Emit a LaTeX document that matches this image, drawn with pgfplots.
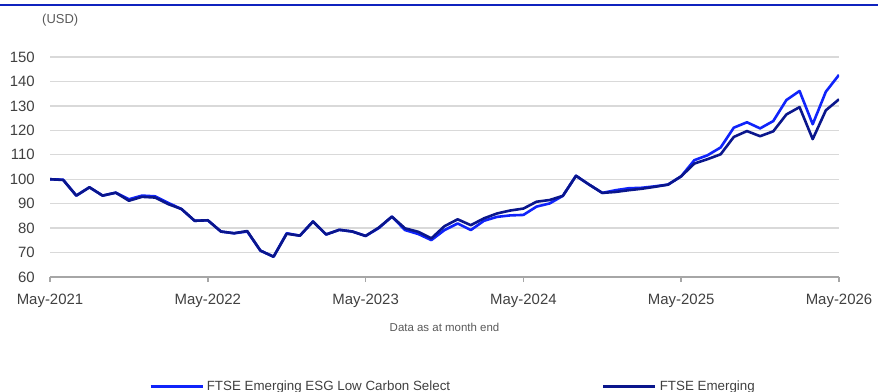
\documentclass[border=0pt]{standalone}
\usepackage{pgfplots}
\pgfplotsset{compat=1.18}
\usepackage{pgfplotstable}
\usepackage{fontspec}
\setmainfont{Liberation Sans}
\definecolor{esg}{RGB}{16,36,250}
\definecolor{em}{RGB}{10,22,140}
\definecolor{topline}{RGB}{15,35,190}
\definecolor{gridc}{RGB}{217,217,217}
\definecolor{axisc}{RGB}{166,166,166}
\definecolor{txt}{RGB}{64,64,64}
\definecolor{txtl}{RGB}{89,89,89}
\pgfplotstableread{
m esg em
0 100 100
1 99.8 99.7
2 93.3 93.3
3 96.7 96.7
4 93.3 93.3
5 94.5 94.5
6 91.8 91.2
7 93.3 92.8
8 93.0 92.5
9 90.3 89.8
10 87.8 87.8
11 83.0 83.0
12 83.2 83.2
13 78.6 78.6
14 77.9 77.9
15 78.6 78.8
16 70.8 70.8
17 68.3 68.3
18 77.9 77.7
19 76.9 76.9
20 82.7 82.7
21 77.4 77.4
22 79.3 79.3
23 78.6 78.6
24 76.8 76.8
25 80.0 80.2
26 84.7 84.7
27 79.2 79.9
28 77.6 78.5
29 75.1 75.8
30 79.2 80.8
31 81.9 83.6
32 79.2 81.2
33 83.0 84.0
34 84.6 86.0
35 85.2 87.2
36 85.4 88.0
37 88.8 90.8
38 90.1 91.5
39 93.2 93.2
40 101.4 101.4
41 97.8 97.8
42 94.4 94.4
43 95.5 94.8
44 96.3 95.5
45 96.5 96.1
46 97.1 96.9
47 97.8 97.8
48 101.2 101.2
49 107.8 106.4
50 109.8 108.2
51 113.0 110.2
52 121.1 117.3
53 123.3 119.7
54 120.8 117.6
55 123.8 119.6
56 132.4 126.5
57 136.1 129.5
58 122.5 116.4
59 135.8 128.2
60 142.7 132.7
}\datatable
\begin{document}
\begin{tikzpicture}
\path[use as bounding box] (-50bp,-115bp) rectangle (828bp,277bp);
\draw[color=topline, line width=1.5bp] (-50bp,272bp) -- (828bp,272bp);
\node[anchor=west, inner sep=0pt, text=txtl, font=\fontsize{13}{15}\selectfont] at (-8bp,257bp) {(USD)};
\begin{axis}[
  at={(0,0)}, anchor=south west,
  scale only axis, width=789bp, height=220bp,
  xmin=0, xmax=60, ymin=60, ymax=150,
  axis x line*=bottom, axis y line*=left,
  x axis line style={draw=axisc, line width=1.5bp, -},
  y axis line style={draw=none},
  xtick={0,12,24,36,48,60},
  xticklabels={May-2021,May-2022,May-2023,May-2024,May-2025,May-2026},
  ytick={60,70,...,150},
  xtick align=outside,
  xtick style={draw=axisc, line width=1.5bp},
  ytick style={draw=none},
  major tick length=5bp,
  ymajorgrids,
  grid style={draw=gridc, line width=1.3bp},
  /pgf/number format/assume math mode=true,
  ticklabel style={text=txt, font=\fontsize{15}{17}\selectfont, inner sep=0pt},
  yticklabel style={anchor=east, xshift=-15bp},
  xticklabel style={anchor=north, yshift=-12bp},
  xlabel={Data as at month end},
  xlabel style={at={(axis description cs:0.5,-0.2273)}, anchor=center, text=txtl, font=\fontsize{11.5}{13}\selectfont},
  legend style={draw=none, fill=none, inner sep=0pt, legend columns=2,
    at={(axis description cs:0.1255,-0.4985)}, anchor=west,
    nodes={inner sep=0pt, text=txt, font=\fontsize{13.4}{15}\selectfont},
    /tikz/every odd column/.append style={column sep=3bp},
    /tikz/every even column/.append style={column sep=152bp}},
  legend image code/.code={\draw[#1] (0bp,0bp) -- (52bp,0bp);},
]
\addplot[color=esg, line width=2.6bp, line join=round] table[x=m, y=esg] {\datatable};
\addlegendentry{FTSE Emerging ESG Low Carbon Select}
\addplot[color=em, line width=2.6bp, line join=round] table[x=m, y=em] {\datatable};
\addlegendentry{FTSE Emerging}
\end{axis}
\end{tikzpicture}
\end{document}
